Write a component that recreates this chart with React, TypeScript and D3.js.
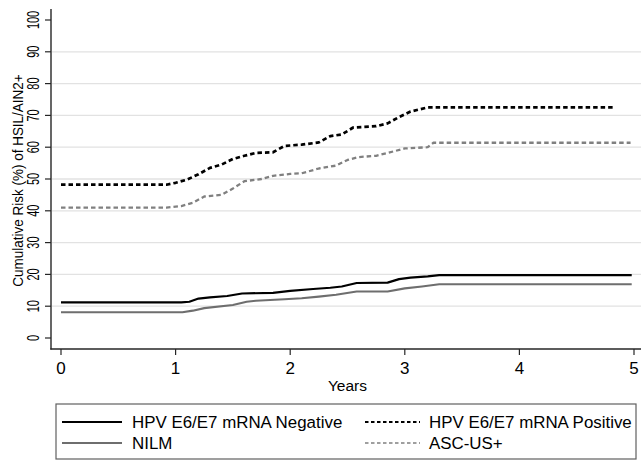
import React from "react";
import * as d3 from "d3";

const yTicks = [0, 10, 20, 30, 40, 50, 60, 70, 80, 90, 100];
const gridValues = [10, 20, 30, 40, 50, 60, 70, 80, 90];
const xTicks = [0, 1, 2, 3, 4, 5];

const posYears = [0, 0.92, 1.0, 1.1, 1.2, 1.3, 1.4, 1.5, 1.6, 1.7, 1.85, 1.95, 2.1, 2.25, 2.35, 2.45, 2.55, 2.75, 2.85, 2.95, 3.05, 3.2, 4.83];
const posRisk = [48.2, 48.2, 48.8, 49.8, 51.5, 53.5, 54.5, 56.3, 57.3, 58.2, 58.4, 60.4, 60.8, 61.5, 63.5, 64.0, 66.2, 66.6, 67.5, 69.5, 71.2, 72.5, 72.5];

const ascYears = [0, 0.92, 1.05, 1.15, 1.25, 1.4, 1.5, 1.6, 1.75, 1.85, 2.0, 2.1, 2.25, 2.4, 2.5, 2.6, 2.75, 2.85, 3.0, 3.2, 3.25, 4.97];
const ascRisk = [41, 41, 41.5, 42.5, 44.5, 45, 47, 49.3, 50, 51, 51.6, 51.8, 53.3, 54.2, 56, 56.9, 57.3, 58.2, 59.6, 60, 61.4, 61.4];

const negYears = [0, 1.05, 1.12, 1.2, 1.3, 1.45, 1.58, 1.85, 2.0, 2.2, 2.35, 2.45, 2.58, 2.85, 2.95, 3.05, 3.2, 3.3, 4.98];
const negRisk = [11.2, 11.2, 11.4, 12.4, 12.8, 13.2, 14, 14.2, 14.8, 15.4, 15.8, 16.2, 17.3, 17.4, 18.5, 19, 19.4, 19.8, 19.8];

const nilmYears = [0, 1.06, 1.15, 1.25, 1.5, 1.62, 1.7, 1.95, 2.1, 2.25, 2.4, 2.58, 2.85, 3.0, 3.15, 3.3, 4.98];
const nilmRisk = [8.1, 8.1, 8.6, 9.4, 10.4, 11.4, 11.7, 12.2, 12.5, 13.0, 13.6, 14.6, 14.6, 15.6, 16.2, 16.9, 16.9];

const legendLabels = [
  "HPV E6/E7 mRNA Negative",
  "HPV E6/E7 mRNA Positive",
  "NILM",
  "ASC-US+",
];

const FONT = "'Liberation Sans', Arial, Helvetica, sans-serif";

export default function App() {
  const x = d3.scaleLinear().domain([0, 5]).range([61, 634]);
  const y = d3.scaleLinear().domain([0, 100]).range([338, 20]);
  const line = d3
    .line<[number, number]>()
    .x((d) => x(d[0]))
    .y((d) => y(d[1]));
  const zip = (a: number[], b: number[]) => a.map((v, i) => [v, b[i]] as [number, number]);

  const series = [
    { d: zip(negYears, negRisk), color: "#000000", width: 2.2, dash: undefined },
    { d: zip(nilmYears, nilmRisk), color: "#6e6e6e", width: 2.1, dash: undefined },
    { d: zip(posYears, posRisk), color: "#000000", width: 2.7, dash: "4.5,3" },
    { d: zip(ascYears, ascRisk), color: "#808080", width: 2.3, dash: "4.5,3" },
  ];

  const axisColor = "#262626";

  return (
    <svg
      width={643}
      height={460}
      style={{ position: "absolute", left: 0, top: 0, background: "#fff" }}
      fontFamily={FONT}
    >
      <rect x={0} y={0} width={643} height={460} fill="#fff" />
      {gridValues.map((v) => (
        <line key={"g" + v} x1={52} x2={641} y1={y(v)} y2={y(v)} stroke="#e2e2e2" strokeWidth={1.3} />
      ))}
      <line x1={51} x2={51} y1={9} y2={349.5} stroke={axisColor} strokeWidth={1.4} />
      <line x1={50.3} x2={641} y1={349} y2={349} stroke={axisColor} strokeWidth={1.4} />
      {yTicks.map((v) => (
        <g key={"yt" + v}>
          <line x1={45} x2={51} y1={y(v)} y2={y(v)} stroke={axisColor} strokeWidth={1.2} />
          <text
            transform={`translate(38.5,${y(v)}) rotate(-90) scale(0.68,1)`}
            textAnchor="middle"
            fontSize={16}
            fill="#000"
          >
            {v}
          </text>
        </g>
      ))}
      {xTicks.map((v) => (
        <g key={"xt" + v}>
          <line x1={x(v)} x2={x(v)} y1={349} y2={355} stroke={axisColor} strokeWidth={1.2} />
          <text x={x(v)} y={374} textAnchor="middle" fontSize={17} fill="#000">
            {v}
          </text>
        </g>
      ))}
      <text
        transform={`translate(23,180.5) rotate(-90) scale(0.9,1)`}
        textAnchor="middle"
        fontSize={15}
        fill="#000"
      >
        Cumulative Risk (%) of HSIL/AIN2+
      </text>
      <text x={347.5} y={391} textAnchor="middle" fontSize={15.5} fill="#000">
        Years
      </text>
      {series.map((s, i) => (
        <path
          key={"s" + i}
          d={line(s.d) || ""}
          fill="none"
          stroke={s.color}
          strokeWidth={s.width}
          strokeDasharray={s.dash}
          strokeLinejoin="round"
        />
      ))}
      <rect x={56} y={404} width={580} height={55} fill="#fff" stroke="#606060" strokeWidth={1.2} />
      <line x1={62} x2={122} y1={422} y2={422} stroke="#000" strokeWidth={2} />
      <text x={132} y={428} fontSize={16.9} fill="#000">{legendLabels[0]}</text>
      <line x1={365} x2={420} y1={422} y2={422} stroke="#000" strokeWidth={2} strokeDasharray="3.5,2.5" />
      <text x={429} y={428} fontSize={16.9} fill="#000">{legendLabels[1]}</text>
      <line x1={62} x2={122} y1={443} y2={443} stroke="#6e6e6e" strokeWidth={1.8} />
      <text x={132} y={449} fontSize={16.9} fill="#000">{legendLabels[2]}</text>
      <line x1={365} x2={420} y1={443} y2={443} stroke="#808080" strokeWidth={1.6} strokeDasharray="3.5,2.5" />
      <text x={429} y={449} fontSize={16.9} fill="#000">{legendLabels[3]}</text>
    </svg>
  );
}
